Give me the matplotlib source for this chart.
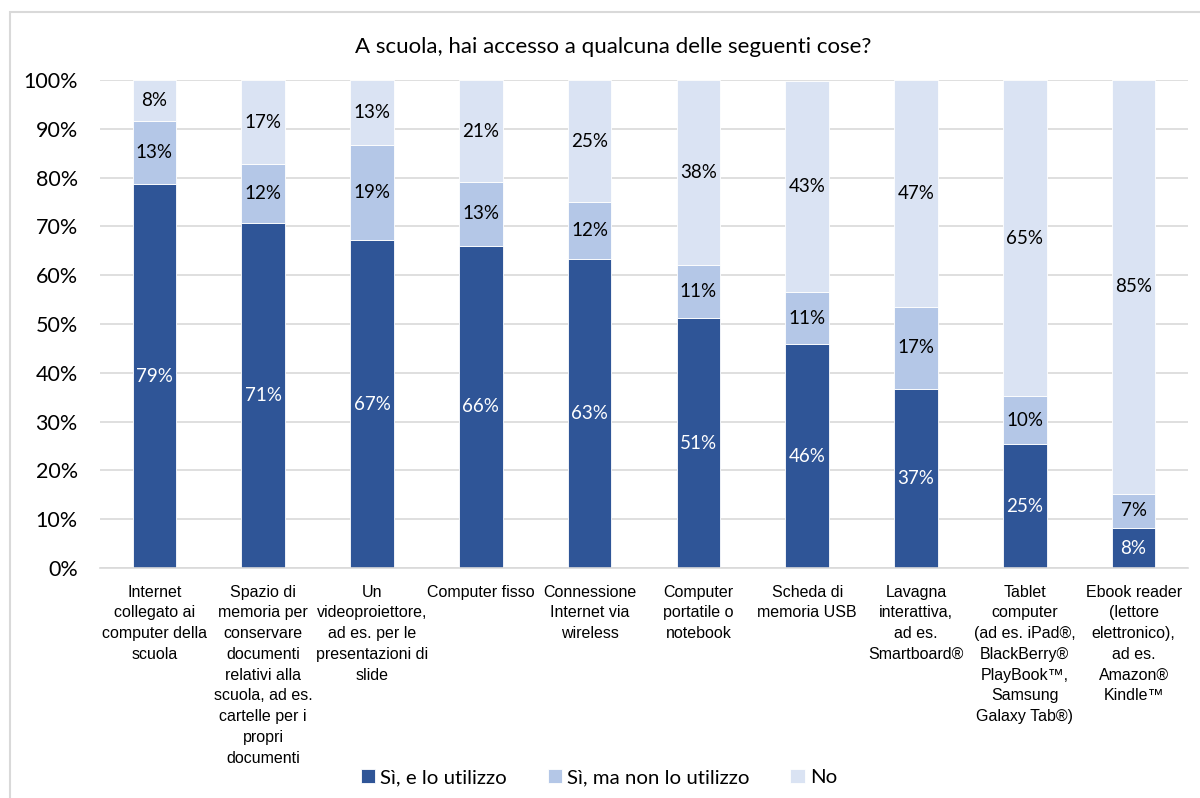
import matplotlib.pyplot as plt
from matplotlib.patches import Rectangle
import numpy as np

categories = [
    "Internet\ncollegato ai\ncomputer della\nscuola",
    "Spazio di\nmemoria per\nconservare\ndocumenti\nrelativi alla\nscuola, ad es.\ncartelle per i\npropri\ndocumenti",
    "Un\nvideoproiettore,\nad es. per le\npresentazioni di\nslide",
    "Computer fisso",
    "Connessione\nInternet via\nwireless",
    "Computer\nportatile o\nnotebook",
    "Scheda di\nmemoria USB",
    "Lavagna\ninterattiva,\nad es.\nSmartboard®",
    "Tablet\ncomputer\n(ad es. iPad®,\nBlackBerry®\nPlayBook™,\nSamsung\nGalaxy Tab®)",
    "Ebook reader\n(lettore\nelettronico),\nad es.\nAmazon®\nKindle™",
]
si_utilizzo = [78.6, 70.7, 67.2, 66.0, 63.3, 51.2, 45.9, 36.7, 25.4, 8.2]
si_non_utilizzo = [13.1, 12.1, 19.4, 13.1, 11.7, 10.9, 10.6, 16.8, 9.8, 7.0]
no = [8.3, 17.2, 13.4, 20.9, 25.0, 37.9, 43.4, 46.6, 64.8, 84.8]

series = ["Sì, e lo utilizzo", "Sì, ma non lo utilizzo", "No"]
colors = ["#2F5597", "#B4C7E7", "#DAE3F3"]
label_colors = ["white", "black", "black"]

ui_font = "Lato"
cat_font = ["Liberation Sans Narrow", "Liberation Sans", "DejaVu Sans"]

fig = plt.figure(figsize=(12, 7.98), dpi=100)
ax = fig.add_axes([0.0833, 0.2882, 0.9067, 0.6115])

x = np.arange(len(categories))
bottom = np.zeros(len(categories))
for vals, name, col, lcol in zip([si_utilizzo, si_non_utilizzo, no], series, colors, label_colors):
    vals = np.array(vals)
    ax.bar(x, vals, width=0.4, bottom=bottom, color=col, edgecolor="white",
           linewidth=0.6, label=name, zorder=2)
    for xi, b, v in zip(x, bottom, vals):
        ax.text(xi, b + v / 2, f"{v:.0f}%", ha="center", va="center",
                color=lcol, fontsize=13.5, family=ui_font, zorder=3)
    bottom += vals

ax.set_xlim(-0.5, len(categories) - 0.5)
ax.set_ylim(0, 100)
ax.set_yticks(range(0, 101, 10))
ax.set_yticklabels([f"{t}%" for t in range(0, 101, 10)], family=ui_font, fontsize=15.5)
ax.yaxis.grid(True, color="#D9D9D9", linewidth=1.2, zorder=0)
ax.set_axisbelow(True)
for s in ["top", "right", "left"]:
    ax.spines[s].set_visible(False)
ax.spines["bottom"].set_color("#D9D9D9")
ax.spines["bottom"].set_linewidth(1.2)
ax.tick_params(axis="both", length=0)
ax.tick_params(axis="y", pad=16)
ax.set_xticks(x)
ax.set_xticklabels(categories, family=cat_font, fontsize=11.5, linespacing=1.48,
                   va="top")
ax.tick_params(axis="x", pad=12)

fig.text(0.511, 0.941, "A scuola, hai accesso a qualcuna delle seguenti cose?",
         ha="center", va="center", family=ui_font, fontsize=16)

fig.legend(loc="center", bbox_to_anchor=(0.499, 0.026), ncol=3, frameon=False,
           prop={"family": ui_font, "size": 14.7}, handlelength=0.7, handleheight=0.7,
           handletextpad=0.25, columnspacing=2.0)

fig.patches.append(Rectangle((10 / 1200, -0.1), 1.1, 1 - 12 / 798 + 0.1,
                             transform=fig.transFigure, fill=False,
                             edgecolor="#D9D9D9", linewidth=1.5))

fig.savefig("out.png", dpi=100)
